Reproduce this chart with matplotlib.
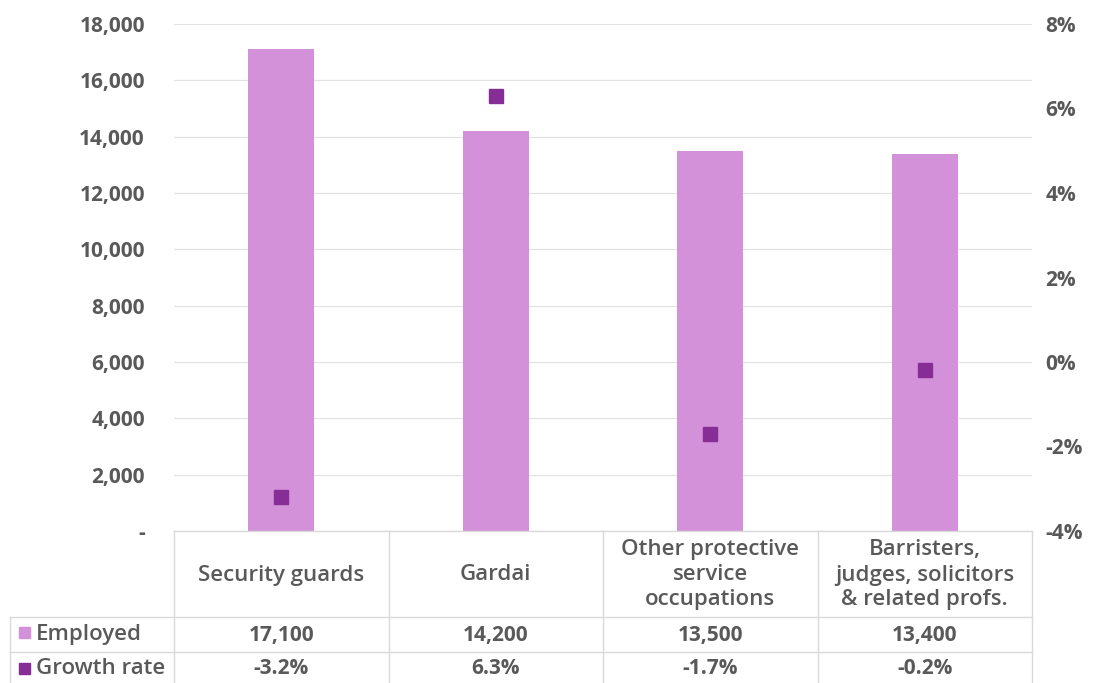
import matplotlib
matplotlib.use("Agg")
import matplotlib.pyplot as plt
from matplotlib.lines import Line2D
from matplotlib.patches import Rectangle

categories = ["Security guards", "Gardai", "Other protective\nservice\noccupations",
              "Barristers,\njudges, solicitors\n& related profs."]
employed = [17100, 14200, 13500, 13400]
growth = [-3.2, 6.3, -1.7, -0.2]
left_ticks = [0, 2000, 4000, 6000, 8000, 10000, 12000, 14000, 16000, 18000]
right_ticks = [-4, -2, 0, 2, 4, 6, 8]
series_names = ["Employed", "Growth rate"]

BAR = "#D291D8"
MARK = "#862E96"
TXT = "#595959"
GRID = "#D9D9D9"
HGRID = "#E2E2E2"

plt.rcParams['font.family'] = ['Open Sans', 'DejaVu Sans']

W, H = 1095, 683
fig = plt.figure(figsize=(W / 100, H / 100), dpi=100)
x0, x1, ytop, ybot = 174, 1032, 24, 531
ax = fig.add_axes([x0 / W, (H - ybot) / H, (x1 - x0) / W, (ybot - ytop) / H])
ax2 = ax.twinx()

xs = list(range(len(categories)))
ax.bar(xs, employed, width=0.31, color=BAR, zorder=2)
ax2.plot(xs, growth, linestyle="none", marker="s", markersize=10, color=MARK, zorder=3)

ax.set_xlim(-0.5, len(categories) - 0.5)
ax.set_ylim(0, 18000)
ax2.set_ylim(-4, 8)
ax.set_yticks(left_ticks)
ax.set_yticklabels(["-" if v == 0 else f"{v:,}" for v in left_ticks])
ax2.set_yticks(right_ticks)
ax2.set_yticklabels([f"{v}%" for v in right_ticks])
ax.set_xticks([])
ax.set_axisbelow(True)
ax.grid(axis="y", color=HGRID, lw=0.9, zorder=0)
for a in (ax, ax2):
    for s in a.spines.values():
        s.set_visible(False)
    a.tick_params(axis="y", length=0, labelsize=15, labelcolor=TXT)
    for lab in a.get_yticklabels():
        lab.set_fontweight("bold")
ax.tick_params(axis="y", pad=21)
ax2.tick_params(axis="y", pad=9.5)

# data table drawn in pixel coordinates
tab = fig.add_axes([0, 0, 1, 1])
tab.set_xlim(0, W)
tab.set_ylim(H, 0)
tab.axis("off")
tab.patch.set_alpha(0)
col_edges = [x0 + (x1 - x0) * i / len(categories) for i in range(len(categories) + 1)]
row_y = [531, 617, 652, 690]
lw = 1.0
tab.add_line(Line2D([x0, x1], [row_y[0], row_y[0]], color=GRID, lw=lw))
for y in row_y[1:3]:
    tab.add_line(Line2D([10, x1], [y, y], color=GRID, lw=lw))
for xe in col_edges:
    tab.add_line(Line2D([xe, xe], [row_y[0], H], color=GRID, lw=lw))
tab.add_line(Line2D([10, 10], [row_y[1], H], color=GRID, lw=lw))

for i, c in enumerate(categories):
    cx = (col_edges[i] + col_edges[i + 1]) / 2
    tab.text(cx, (row_y[0] + row_y[1]) / 2 + 1, c, ha="center", va="center",
             fontsize=16, color=TXT, fontweight=600, linespacing=1.25)
    tab.text(cx, (row_y[1] + row_y[2]) / 2 + 1, f"{employed[i]:,}", ha="center", va="center",
             fontsize=15, color=TXT, fontweight="bold")
    tab.text(cx, 669, f"{growth[i]:.1f}%", ha="center", va="center",
             fontsize=15, color=TXT, fontweight="bold")

# row headers with legend keys
tab.add_patch(Rectangle((19, 627), 11, 11, color=BAR))
tab.text(36, (row_y[1] + row_y[2]) / 2, series_names[0], ha="left", va="center",
         fontsize=16, color=TXT, fontweight=600)
tab.add_patch(Rectangle((19, 663), 11, 11, color=MARK))
tab.text(36, 669, series_names[1], ha="left", va="center",
         fontsize=16, color=TXT, fontweight=600)

fig.savefig("out.png", dpi=100)
